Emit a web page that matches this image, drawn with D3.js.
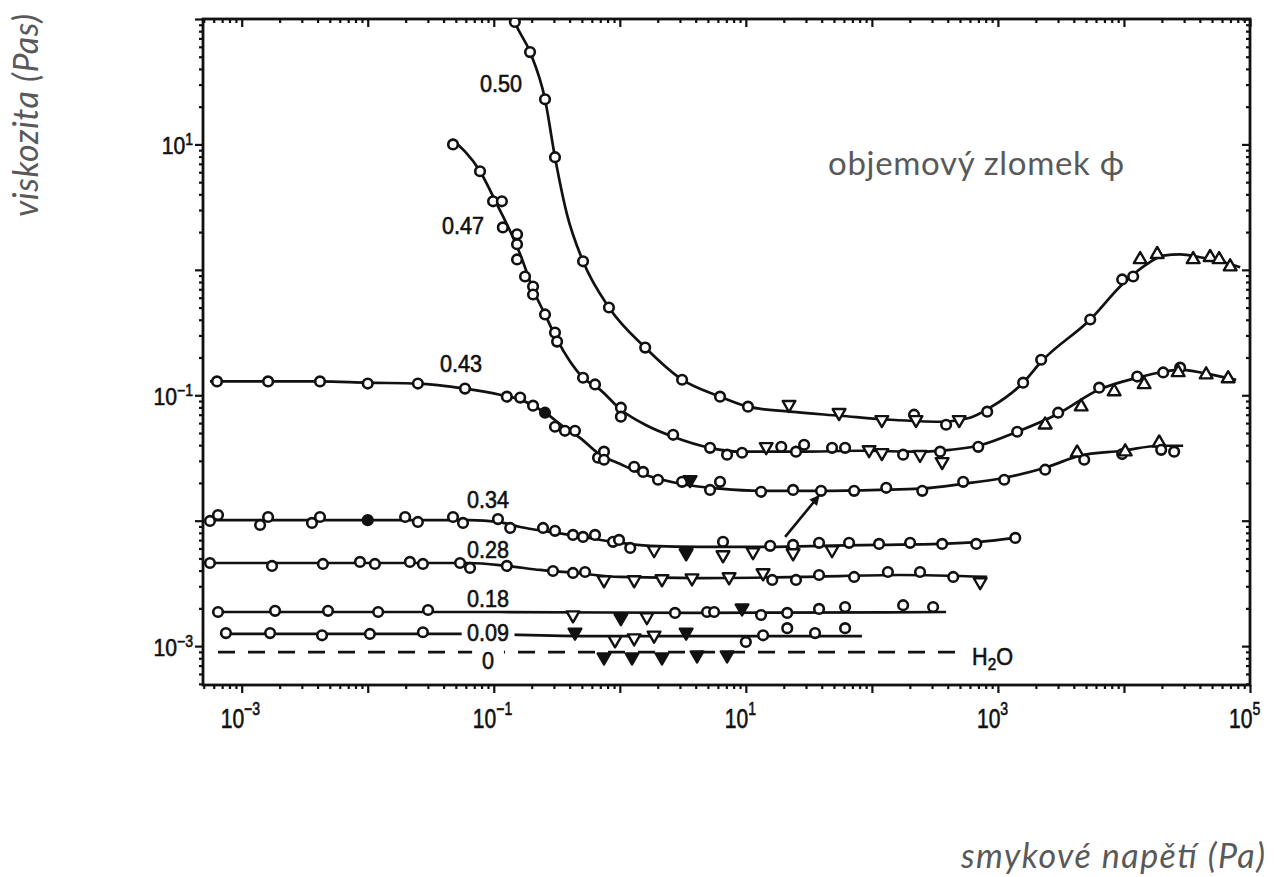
<!DOCTYPE html>
<html><head><meta charset="utf-8">
<script src="https://cdn.jsdelivr.net/npm/d3@7"></script>
<style>
html,body{margin:0;padding:0;background:#fff;}
svg{display:block;}
</style></head><body>
<svg id="chart" width="1274" height="877"></svg>
<script>
// ---------------- data (shear stress in Pa, viscosity in Pa·s) ----------------
const xTickLabels = [[1e-3,"−3"],[1e-1,"−1"],[1e1,"1"],[1e3,"3"],[1e5,"5"]];
const yTickLabels = [[1e-3,"−3"],[1e-1,"−1"],[1e1,"1"]];

const phi050Line = [[0.142,104],[0.147,94.6],[0.194,54.5],[0.255,22.9],[0.306,7.91],[0.381,2.77],[0.511,1.17],[0.820,0.501],[1.59,0.240],[3.12,0.133],[6.24,0.0975],[10.4,0.0811],[22.4,0.0740],[55.8,0.0687],[140,0.0638],[348,0.0615],[600,0.0662],[865,0.0796],[1585,0.126],[2203,0.185],[5400,0.402],[9680,0.764],[15000,1.10],[20480,1.30],[27910,1.33],[40090,1.26],[57800,1.17],[83600,1.05]];
const phi050Pts = [["o",0.147,94.6],["o",0.194,54.5],["o",0.255,22.9],["o",0.306,7.91],["o",0.511,1.17],["o",0.820,0.501],["o",1.59,0.240],["o",3.12,0.133],["o",6.24,0.0975],["o",10.4,0.0811],["v",22.0,0.0842],["v",54.9,0.0726],["v",120,0.0638],["o",216,0.0700],["v",224,0.0638],["o",388,0.0582],["v",493,0.0638],["o",822,0.0740],["o",1585,0.126],["o",2203,0.192],["o",5400,0.402],["o",9680,0.838],["o",11830,0.885],["^",13450,1.21],["^",18360,1.33],["^",35410,1.21],["^",48290,1.26],["^",56900,1.21],["^",69600,1.06]];

const phi047Line = [[0.0466,11.0],[0.0778,6.11],[0.106,3.33],[0.135,2.03],[0.162,1.33],[0.205,0.697],[0.255,0.441],[0.318,0.278],[0.511,0.138],[0.697,0.111],[1.02,0.0767],[1.59,0.0582],[2.65,0.0467],[5.20,0.0381],[8.99,0.0355],[26.9,0.0355],[80.5,0.0361],[241,0.0355],[417,0.0367],[698,0.0396],[1422,0.0512],[3006,0.0713],[6359,0.111],[12730,0.138],[20480,0.154],[27910,0.160],[44880,0.149],[77700,0.133]];
const phi047Pts = [["o",0.0475,10.0],["o",0.0778,6.11],["o",0.0987,3.52],["o",0.116,3.52],["o",0.118,2.18],["o",0.153,1.92],["o",0.153,1.60],["o",0.153,1.21],["o",0.177,0.885],["o",0.205,0.736],["o",0.205,0.636],["o",0.255,0.441],["o",0.306,0.316],["o",0.318,0.268],["o",0.511,0.138],["o",0.636,0.122],["o",1.02,0.0796],["o",1.02,0.0675],["o",2.65,0.0484],["o",5.20,0.0381],["o",7.10,0.0336],["o",9.33,0.0348],["v",14.5,0.0388],["o",19.1,0.0388],["o",25.0,0.0355],["o",29.0,0.0403],["o",48.3,0.0381],["o",61.3,0.0381],["v",95.0,0.0367],["v",120,0.0348],["o",177,0.0336],["v",241,0.0336],["o",348,0.0355],["v",361,0.0295],["o",698,0.0388],["o",1422,0.0512],["^",2371,0.0582],["o",3006,0.0726],["^",4577,0.0811],["o",6359,0.115],["^",8364,0.107],["o",12730,0.141],["^",14460,0.122],["o",20480,0.152],["o",27910,0.166],["^",26920,0.152],["^",44880,0.146],["^",67100,0.136]];

const phi043Line = [[5.60e-4,0.129],[1.62e-3,0.129],[4.18e-3,0.129],[1.00e-2,0.126],[0.0250,0.124],[0.0591,0.113],[0.112,0.101],[0.162,0.0923],[0.255,0.0726],[0.367,0.0551],[0.483,0.0458],[0.697,0.0336],[1.00,0.0284],[1.59,0.0232],[3.00,0.0197],[6.24,0.0180],[12.9,0.0173],[38.7,0.0173],[116,0.0176],[241,0.0180],[530,0.0197],[1122,0.0220],[2371,0.0264],[4477,0.0330],[9680,0.0361],[19320,0.0396],[29490,0.0396]];
const phi043Pts = [["o",6.37e-4,0.129],["o",1.62e-3,0.129],["o",4.18e-3,0.129],["o",1.00e-2,0.124],["o",0.0250,0.124],["o",0.0591,0.113],["o",0.127,0.0975],["o",0.162,0.0958],["o",0.205,0.0826],["O",0.255,0.0726],["o",0.306,0.0561],["o",0.367,0.0521],["o",0.441,0.0521],["o",0.672,0.0318],["o",0.749,0.0355],["o",0.749,0.0306],["o",1.30,0.0269],["o",1.53,0.0245],["o",2.01,0.0212],["o",3.12,0.0204],["V",3.61,0.0212],["o",5.20,0.0176],["o",6.24,0.0204],["o",13.2,0.0170],["o",23.7,0.0176],["o",39.5,0.0173],["o",72.3,0.0173],["o",130,0.0183],["o",251,0.0173],["o",530,0.0204],["o",1122,0.0212],["o",2371,0.0255],["^",4252,0.0348],["o",4839,0.0306],["o",9680,0.0340],["^",10230,0.0355],["^",19040,0.0418],["o",19740,0.0367],["o",25020,0.0355]];

const phi034Line = [[5.60e-4,0.0101],[4.18e-3,0.0101],[0.0260,0.0101],[0.0648,0.0101],[0.108,0.00977],[0.162,0.00891],[0.279,0.00814],[0.511,0.00743],[0.883,0.00678],[1.74,0.00630],[4.32,0.00618],[12.9,0.00618],[38.7,0.00630],[116,0.00641],[348,0.00653],[723,0.00678],[1372,0.00729]];
const phi034Pts = [["o",5.60e-4,0.00995],["o",6.49e-4,0.0111],["o",1.40e-3,0.00925],["o",1.62e-3,0.0107],["o",3.61e-3,0.00960],["o",4.18e-3,0.0107],["O",1.00e-2,0.0101],["o",0.0198,0.0107],["o",0.0250,0.00977],["o",0.0475,0.0107],["o",0.0570,0.00960],["o",0.108,0.0103],["o",0.135,0.00875],["o",0.246,0.00875],["o",0.306,0.00830],["o",0.425,0.00770],["o",0.511,0.00743],["o",0.636,0.00770],["o",0.883,0.00678],["o",0.986,0.00703],["o",1.21,0.00607],["v",1.87,0.00585],["V",3.36,0.00553],["o",6.59,0.00678],["v",6.59,0.00533],["v",11.4,0.00564],["o",15.6,0.00630],["o",23.7,0.00641],["v",23.7,0.00553],["o",38.1,0.00666],["v",48.3,0.00585],["o",65.9,0.00666],["o",114,0.00653],["o",201,0.00666],["o",361,0.00653],["o",673,0.00653],["o",1372,0.00729]];

const phi028Line = [[5.60e-4,0.00460],[7.23e-3,0.00460],[0.0648,0.00460],[0.127,0.00436],[0.233,0.00405],[0.441,0.00383],[1.00,0.00356],[4.32,0.00349],[26.9,0.00356],[167,0.00369],[822,0.00356]];
const phi028Pts = [["o",5.60e-4,0.00460],["o",1.74e-3,0.00436],["o",4.41e-3,0.00452],["o",8.68e-3,0.00469],["o",1.14e-2,0.00452],["o",0.0216,0.00469],["o",0.0274,0.00452],["o",0.0540,0.00460],["o",0.0648,0.00420],["o",0.127,0.00436],["o",0.295,0.00397],["o",0.425,0.00383],["o",0.530,0.00390],["v",0.749,0.00337],["v",1.30,0.00337],["v",2.16,0.00343],["v",3.74,0.00349],["v",7.36,0.00356],["v",13.7,0.00383],["o",16.2,0.00337],["o",25.0,0.00337],["o",38.1,0.00369],["o",72.3,0.00356],["o",134,0.00390],["o",241,0.00390],["o",442,0.00356],["v",723,0.00325]];

const phi018Line = [[5.94e-4,0.00187],[0.112,0.00187],[4.32,0.00184],[388,0.00187]];
const phi018Pts = [["o",6.49e-4,0.00187],["o",1.84e-3,0.00191],["o",4.84e-3,0.00191],["o",1.21e-2,0.00187],["o",3.01e-2,0.00194],["v",0.425,0.00177],["V",1.02,0.00168],["v",1.64,0.00171],["o",2.74,0.00184],["o",4.92,0.00187],["o",5.60,0.00187],["V",9.33,0.00201],["o",13.2,0.00177],["o",21.3,0.00184],["o",38.1,0.00198],["o",61.3,0.00205],["o",177,0.00212],["o",306,0.00205]];

const phi009Line = [[6.73e-4,0.00125],[0.0540,0.00125],[0.697,0.00120],[83.4,0.00120]];
const phi009Pts = [["o",7.50e-4,0.00127],["o",1.68e-3,0.00127],["o",4.34e-3,0.00122],["o",1.04e-2,0.00125],["o",2.74e-2,0.00129],["V",0.441,0.00129],["v",0.916,0.00112],["v",1.30,0.00116],["v",1.87,0.00122],["V",3.36,0.00129],["o",10.0,0.00108],["o",13.7,0.00122],["o",21.3,0.00139],["o",35.4,0.00127],["o",61.3,0.00139]];

const waterLine = [[6.49e-4,0.000895],[473,0.000895]];
const waterPts = [["V",0.749,0.000817],["V",1.25,0.000817],["V",2.16,0.000817],["V",4.10,0.000847],["V",7.10,0.000847]];

const curveLabels = [["0.50",0.0778,26.1,0],["0.47",0.0388,1.92,0],["0.43",0.0374,0.152,0],["0.34",0.0614,0.01265,0],["0.28",0.0614,0.00505,0],["0.18",0.0614,0.00205,0],["0.09",0.0614,0.00109,6],["0",0.0807,0.000660,11]];
const waterLabel = [623,0.000705];
const arrowPts = [[20.5,0.00743],[38.0,0.0158]];

// ---------------- layout ----------------
const pL=203,pR=1250,pT=19,pB=685;
const svg=d3.select("#chart");
svg.append("rect").attr("width",1274).attr("height",877).attr("fill","#fff");

const x=d3.scaleLog().domain([Math.pow(10,-3.307),1e5]).range([pL,pR]);
const y=d3.scaleLog().domain([Math.pow(10,-3.31),100]).range([pB,pT]);

function decadeTicks(scale, minor){
  const [a,b]=scale.domain(); const out=[];
  for(let e=Math.floor(Math.log10(a));e<=Math.ceil(Math.log10(b));e++){
    if(minor){ for(let m=2;m<=9;m++){const v=m*Math.pow(10,e); if(v>=a&&v<=b) out.push(v);} }
    else { const v=Math.pow(10,e); if(v>=a&&v<=b) out.push(v); }
  }
  return out;
}
const xMin=decadeTicks(x,true), xMaj=decadeTicks(x,false);
const yMin=decadeTicks(y,true), yMaj=decadeTicks(y,false);

function axis(gen, pos, vals, size){
  const g=svg.append("g").attr("transform",pos)
    .call(gen.tickValues(vals).tickSize(size).tickFormat(""));
  g.select(".domain").remove();
  g.selectAll("line").attr("stroke","#111").attr("stroke-width",2.2);
  return g;
}
axis(d3.axisBottom(x),`translate(0,${pB})`,xMin,4);
axis(d3.axisBottom(x),`translate(0,${pB})`,xMaj,8);
axis(d3.axisBottom(x),`translate(0,${pT})`,xMin,4);
axis(d3.axisBottom(x),`translate(0,${pT})`,xMaj,8);
axis(d3.axisLeft(y),`translate(${pL},0)`,yMin,4);
axis(d3.axisLeft(y),`translate(${pL},0)`,yMaj,8);
axis(d3.axisLeft(y),`translate(${pR},0)`,yMin,4);
axis(d3.axisLeft(y),`translate(${pR},0)`,yMaj,8);

svg.append("rect").attr("x",pL).attr("y",pT).attr("width",pR-pL).attr("height",pB-pT)
  .attr("fill","none").attr("stroke","#111").attr("stroke-width",2.8);

const labelFont="'Liberation Sans', Arial, sans-serif";
// x tick labels
xTickLabels.forEach(([v,e])=>{
  const g=svg.append("g").attr("transform",`translate(${x(v)-21},728) scale(0.78,1)`);
  const t=g.append("text").attr("font-family",labelFont).attr("font-size",27).attr("fill","#111")
    .attr("stroke","#111").attr("stroke-width",0.6);
  t.append("tspan").text("10");
  t.append("tspan").attr("dy",-13).attr("font-size",18).text(e);
});
// y tick labels
yTickLabels.forEach(([v,e])=>{
  const g=svg.append("g").attr("transform",`translate(193,${y(v)+10}) scale(0.88,1)`);
  const t=g.append("text").attr("font-family",labelFont).attr("font-size",24).attr("fill","#111")
    .attr("text-anchor","end").attr("stroke","#111").attr("stroke-width",0.6);
  t.append("tspan").text("10");
  t.append("tspan").attr("dy",-9).attr("font-size",16).text(e);
});

// clip
svg.append("clipPath").attr("id","clip").append("rect")
  .attr("x",pL).attr("y",pT).attr("width",pR-pL).attr("height",pB-pT);
const plot=svg.append("g").attr("clip-path","url(#clip)");

const line=d3.line().x(d=>x(d[0])).y(d=>y(d[1])).curve(d3.curveMonotoneX);
[phi050Line,phi047Line,phi043Line,phi034Line,phi028Line,phi018Line,phi009Line].forEach(L=>{
  plot.append("path").attr("d",line(L)).attr("fill","none").attr("stroke","#111").attr("stroke-width",2.7);
});
plot.append("path").attr("d",line(waterLine)).attr("fill","none").attr("stroke","#111")
  .attr("stroke-width",2.8).attr("stroke-dasharray","17,13");

const tri=d3.symbol().type(d3.symbolTriangle).size(70);
function markers(P){
  P.forEach(([s,vx,vy])=>{
    const cx=x(vx), cy=y(vy);
    if(s==="o"||s==="O"){
      plot.append("circle").attr("cx",cx).attr("cy",cy).attr("r",4.8)
        .attr("fill",s==="O"?"#111":"#fff").attr("stroke","#111").attr("stroke-width",2.6);
    } else {
      const rot = (s==="v"||s==="V")?180:0;
      plot.append("path").attr("d",tri()).attr("transform",`translate(${cx},${cy}) rotate(${rot})`)
        .attr("fill",s==="V"?"#111":"#fff").attr("stroke","#111").attr("stroke-width",2.4)
        .attr("stroke-linejoin","round");
    }
  });
}
[phi050Pts,phi047Pts,phi043Pts,phi034Pts,phi028Pts,phi018Pts,phi009Pts,waterPts].forEach(markers);

// arrow
svg.append("defs").append("marker").attr("id","ah").attr("viewBox","0 0 10 10")
  .attr("refX",9).attr("refY",5).attr("markerWidth",17).attr("markerHeight",10)
  .attr("markerUnits","userSpaceOnUse").attr("orient","auto")
  .append("path").attr("d","M0,0 L10,5 L0,10 Z").attr("fill","#111");
svg.append("path").attr("d",d3.line().x(d=>x(d[0])).y(d=>y(d[1]))(arrowPts))
  .attr("stroke","#111").attr("stroke-width",2.6).attr("fill","none").attr("marker-end","url(#ah)");

// curve labels
curveLabels.forEach(([txt,vx,vy,pad])=>{
  const g=svg.append("g").attr("transform",`translate(${x(vx)},${y(vy)}) scale(0.9,1)`);
  const t=g.append("text").attr("font-family",labelFont).attr("font-size",24).attr("fill","#111")
    .attr("stroke","#111").attr("stroke-width",0.6).text(txt);
  if(pad){
    const b=t.node().getBBox();
    g.insert("rect","text").attr("x",b.x-pad).attr("y",b.y).attr("width",b.width+2*pad).attr("height",b.height-4).attr("fill","#fff");
  }
});
{
  const g=svg.append("g").attr("transform",`translate(${x(waterLabel[0])},${y(waterLabel[1])}) scale(0.9,1)`);
  const t=g.append("text").attr("font-family",labelFont).attr("font-size",24).attr("fill","#111")
    .attr("stroke","#111").attr("stroke-width",0.6);
  t.append("tspan").text("H");
  t.append("tspan").attr("dy",5).attr("font-size",17).text("2");
  t.append("tspan").attr("dy",-5).text("O");
}

// titles
const titleFont="Lato, 'Open Sans', sans-serif";
svg.append("text").attr("transform","translate(38,14) rotate(-90)").attr("text-anchor","end")
  .attr("font-family",titleFont).attr("font-style","italic").attr("font-size",34).attr("fill","#595959")
  .attr("textLength",203).attr("lengthAdjust","spacing")
  .text("viskozita (Pas)");
svg.append("text").attr("x",1265).attr("y",868).attr("text-anchor","end")
  .attr("font-family",titleFont).attr("font-style","italic").attr("font-size",34).attr("fill","#595959")
  .attr("textLength",304).attr("lengthAdjust","spacing")
  .text("smykové napětí (Pa)");
svg.append("text").attr("x",828).attr("y",175)
  .attr("font-family",titleFont).attr("font-size",33).attr("fill","#595959")
  .attr("textLength",296).attr("lengthAdjust","spacing")
  .text("objemový zlomek ϕ");
</script>
</body></html>
